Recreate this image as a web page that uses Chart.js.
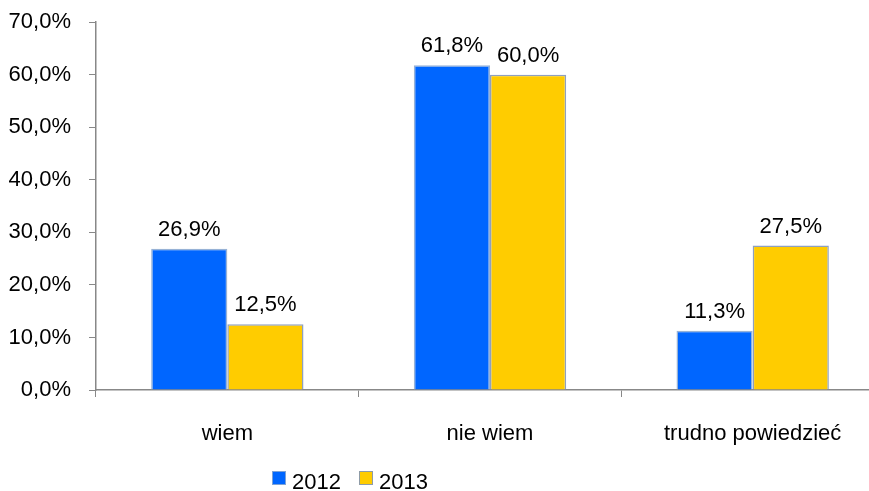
<!DOCTYPE html>
<html>
<head>
<meta charset="utf-8">
<script src="https://cdn.jsdelivr.net/npm/chart.js@4.4.0/dist/chart.umd.min.js"></script>
<style>
  html, body { margin: 0; padding: 0; background: #fff; overflow: hidden; }
  canvas { display: block; margin-top: -9px; }
</style>
</head>
<body>
<canvas id="firstChart" width="884" height="500"></canvas>
<script>
const categories = ['wiem', 'nie wiem', 'trudno powiedzieć'];
const years = ['2012', '2013'];
const values2012 = [26.9, 61.8, 11.3];
const values2013 = [12.5, 60.0, 27.5];
const yTicks = [0, 10, 20, 30, 40, 50, 60, 70];

const font = "'Liberation Sans', Arial, sans-serif";

function pct(v){
    return v.toFixed(1).replace('.', ',') + '%';
}

// value labels over each bar
const barLabels = {
    id: 'barLabels',
    afterDatasetsDraw(chart){
        const ctx = chart.ctx;
        ctx.save();
        ctx.font = '22px ' + font;
        ctx.fillStyle = '#000';
        ctx.textAlign = 'center';
        ctx.textBaseline = 'alphabetic';
        chart.data.datasets.forEach(function(ds, i){
            chart.getDatasetMeta(i).data.forEach(function(bar, j){
                ctx.fillText(pct(ds.data[j]), bar.x, bar.y - 13);
            });
        });
        ctx.restore();
    }
};

// legend below the axis, drawn by hand so it sits where the original has it
const bottomLegend = {
    id: 'bottomLegend',
    afterDraw(chart){
        const ctx = chart.ctx;
        const pos = [272, 359];
        const top = chart.chartArea.bottom + 81;
        ctx.save();
        ctx.font = '22px ' + font;
        ctx.textBaseline = 'alphabetic';
        chart.data.datasets.forEach(function(ds, i){
            ctx.fillStyle = ds.backgroundColor;
            ctx.fillRect(pos[i], top, 14, 14);
            ctx.strokeStyle = ds.borderColor;
            ctx.lineWidth = 1;
            ctx.strokeRect(pos[i] + 0.5, top + 0.5, 13, 13);
            ctx.fillStyle = '#000';
            ctx.fillText(ds.label, pos[i] + 20, top + 18);
        });
        ctx.restore();
    }
};

const ctx = document.getElementById('firstChart');
const chart = new Chart(ctx, {
    type: 'bar',
    data: {
        labels: categories,
        datasets: [{
            label: years[0],
            data: values2012,
            backgroundColor: '#0066FF',
            borderColor: 'rgba(140,170,210,0.9)',
            borderWidth: 1.5,
            categoryPercentage: 0.58,
            barPercentage: 1
        }, {
            label: years[1],
            data: values2013,
            backgroundColor: '#FFCC00',
            borderColor: 'rgba(130,150,185,0.9)',
            borderWidth: 1.5,
            categoryPercentage: 0.58,
            barPercentage: 1
        }]
    },
    options: {
        responsive: false,
        animation: false,
        devicePixelRatio: 1,
        layout: { padding: { top: 10, left: 0, right: 0, bottom: 0 } },
        plugins: {
            legend: { display: false },
            tooltip: { enabled: false }
        },
        scales: {
            x: {
                grid: {
                    drawOnChartArea: false,
                    tickLength: 7,
                    color: '#888',
                    offset: true
                },
                border: { display: true, color: '#888', width: 1.5 },
                ticks: {
                    font: { family: font, size: 22 },
                    color: '#000',
                    padding: 24,
                    maxRotation: 0
                },
                afterFit(scale){ scale.height = 101; }
            },
            y: {
                min: 0,
                max: 70,
                afterBuildTicks(scale){
                    scale.ticks = yTicks.map(function(v){ return { value: v }; });
                },
                grid: {
                    drawOnChartArea: false,
                    tickLength: 7,
                    color: '#888'
                },
                border: { display: true, color: '#888', width: 1.5 },
                ticks: {
                    font: { family: font, size: 22 },
                    color: '#000',
                    padding: 18,
                    callback: function(v){ return pct(v); }
                },
                afterFit(scale){ scale.width = 96; }
            }
        }
    },
    plugins: [barLabels, bottomLegend]
});
</script>
</body>
</html>
